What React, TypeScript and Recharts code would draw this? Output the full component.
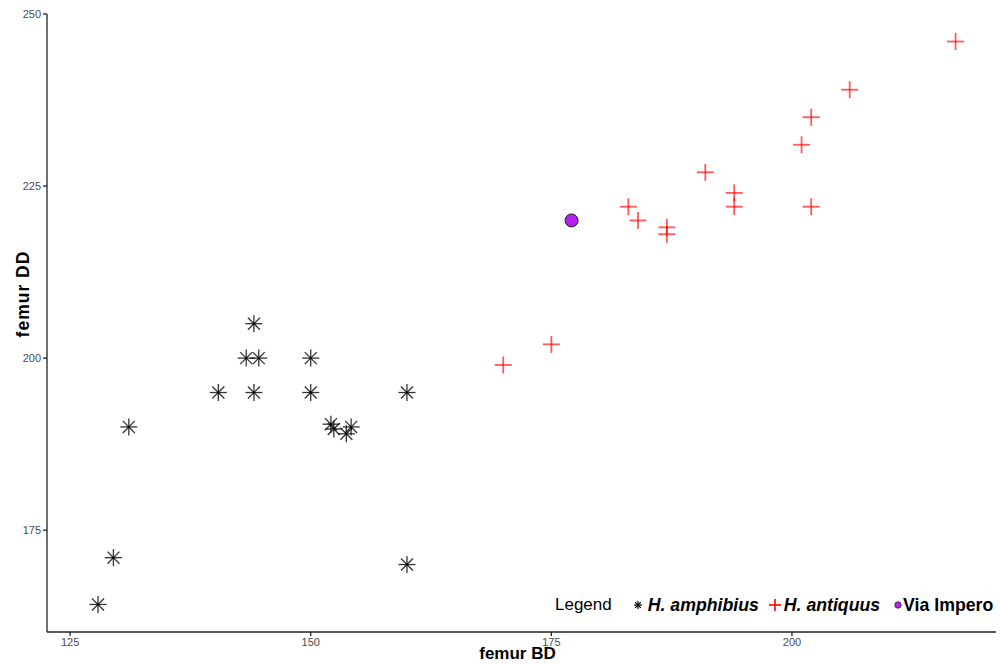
import { ScatterChart, Scatter, XAxis, YAxis, Legend, Label } from 'recharts'

// H. amphibius (black asterisks)
const amphibiusBD = [127.9, 129.5, 131.1, 140.4, 144.1, 144.1, 143.3, 144.6, 150, 150, 152.1, 152.4, 153.7, 154.2, 160, 160]
const amphibiusDD = [164.2, 171, 190, 195, 195, 205, 200, 200, 200, 195, 190.4, 189.7, 189, 190, 195, 170]

// H. antiquus (red crosses)
const antiquusBD = [170, 175, 183, 184, 187, 187, 191, 194, 194, 202, 201, 202, 206, 217]
const antiquusDD = [199, 202, 222, 220, 219, 218, 227, 224, 222, 222, 231, 235, 239, 246]

// Via Impero
const viaBD = [177.1]
const viaDD = [220]

const xTicks = [125, 150, 175, 200]
const yTicks = [175, 200, 225, 250]

const toPoints = (xs: number[], ys: number[]) => xs.map((x, i) => ({ bd: x, dd: ys[i] }))

const FONT = '"Liberation Sans", Arial, sans-serif'
const PURPLE = '#B620EE'
const TICK = { fill: '#4d4d4d', fontSize: 11, fontFamily: FONT }

function Asterisk(props: any) {
  const { cx, cy } = props
  const r = 8.5
  const d = r * Math.SQRT1_2
  return (
    <g stroke="#000" strokeWidth={1.3} strokeOpacity={0.8}>
      <line x1={cx - r} y1={cy} x2={cx + r} y2={cy} />
      <line x1={cx} y1={cy - r} x2={cx} y2={cy + r} />
      <line x1={cx - d} y1={cy - d} x2={cx + d} y2={cy + d} />
      <line x1={cx - d} y1={cy + d} x2={cx + d} y2={cy - d} />
    </g>
  )
}

function Cross(props: any) {
  const { cx, cy } = props
  const r = 8.5
  return (
    <g stroke="#ff0000" strokeWidth={1.8} strokeOpacity={0.65}>
      <line x1={cx - r} y1={cy} x2={cx + r} y2={cy} />
      <line x1={cx} y1={cy - r} x2={cx} y2={cy + r} />
    </g>
  )
}

function Dot(props: any) {
  const { cx, cy } = props
  return <circle cx={cx} cy={cy} r={6.5} fill={PURPLE} stroke="#222" strokeWidth={1} />
}

// y title sits above the panel centre in the original
function YTitle() {
  return (
    <text
      x={29}
      y={294}
      transform="rotate(-90 29 294)"
      textAnchor="middle"
      fontFamily={FONT}
      fontSize={17.5}
      fontWeight="bold"
      letterSpacing={1}
      fill="#000"
    >
      femur DD
    </text>
  )
}

function LegendBox() {
  const txt = { fontFamily: FONT, fontSize: 17, color: '#000', lineHeight: '20px' }
  const bi = { ...txt, fontSize: 17.7, fontWeight: 'bold' as const, fontStyle: 'italic' as const }
  return (
    <div style={{ display: 'flex', alignItems: 'center', whiteSpace: 'nowrap' }}>
      <span style={txt}>Legend</span>
      <svg width={10} height={10} style={{ marginLeft: 21, marginRight: 5 }}>
        <g stroke="#000" strokeWidth={1.2}>
          <line x1={1} y1={5} x2={9} y2={5} />
          <line x1={5} y1={1} x2={5} y2={9} />
          <line x1={2.2} y1={2.2} x2={7.8} y2={7.8} />
          <line x1={2.2} y1={7.8} x2={7.8} y2={2.2} />
        </g>
      </svg>
      <span style={bi}>H. amphibius</span>
      <svg width={12} height={12} style={{ marginLeft: 10, marginRight: 3 }}>
        <g stroke="#ff0000" strokeWidth={1.6}>
          <line x1={0} y1={6} x2={12} y2={6} />
          <line x1={6} y1={0} x2={6} y2={12} />
        </g>
      </svg>
      <span style={bi}>H. antiquus</span>
      <svg width={8} height={8} style={{ marginLeft: 14, marginRight: 1 }}>
        <circle cx={4} cy={4} r={3.2} fill={PURPLE} stroke="#222" strokeWidth={0.8} />
      </svg>
      <span style={{ ...txt, fontSize: 17.7, fontWeight: 'bold' }}>Via Impero</span>
    </div>
  )
}

export default function App() {
  return (
    <div style={{ position: 'absolute', left: 0, top: 0, width: 1000, height: 664, background: '#fff' }}>
      <ScatterChart width={1000} height={664} margin={{ top: 14, right: 4, left: 0, bottom: 0 }}>
        <XAxis
          type="number"
          dataKey="bd"
          domain={[122.6, 221.2]}
          ticks={xTicks}
          allowDataOverflow
          height={32}
          tick={TICK}
          tickSize={4}
          stroke="#222"
          strokeWidth={1.3}
          label={{ value: 'femur BD', position: 'insideBottom', offset: 5, style: { fontFamily: FONT, fontSize: 17, fontWeight: 'bold', fill: '#000' }, dx: -4 }}
        />
        <YAxis
          type="number"
          dataKey="dd"
          domain={[160.2, 250]}
          ticks={yTicks}
          allowDataOverflow
          width={47}
          tick={TICK}
          tickSize={4}
          stroke="#222"
          strokeWidth={1.3}
        >
          <Label content={() => <YTitle />} />
        </YAxis>
        <Legend
          layout="vertical"
          verticalAlign="middle"
          align="center"
          content={() => <LegendBox />}
          wrapperStyle={{ left: 555, top: 595, width: 445 }}
        />
        <Scatter name="H. amphibius" data={toPoints(amphibiusBD, amphibiusDD)} shape={Asterisk} isAnimationActive={false} />
        <Scatter name="H. antiquus" data={toPoints(antiquusBD, antiquusDD)} shape={Cross} isAnimationActive={false} />
        <Scatter name="Via Impero" data={toPoints(viaBD, viaDD)} shape={Dot} isAnimationActive={false} />
      </ScatterChart>
    </div>
  )
}
